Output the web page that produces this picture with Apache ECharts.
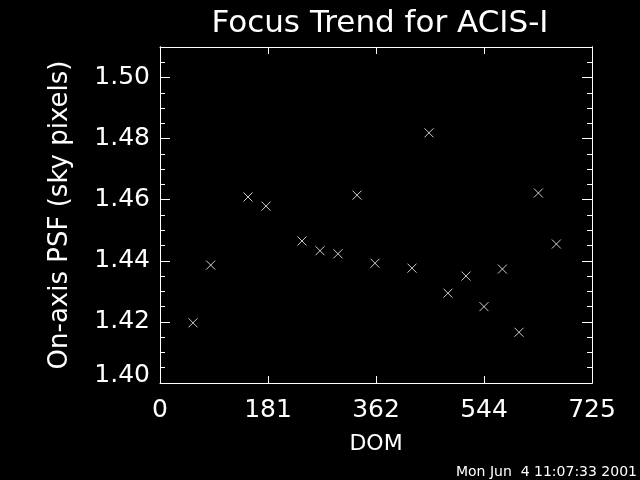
<!DOCTYPE html>
<html>
<head>
<meta charset="utf-8">
<script src="https://cdn.jsdelivr.net/npm/echarts@6/dist/echarts.min.js"></script>
<style>
html,body{margin:0;padding:0;background:#000;}
#c{width:640px;height:480px;}
</style>
</head>
<body>
<div id="c"></div>
<script>
var dom = [55.4, 85.1, 147.7, 177.9, 238.3, 268.5, 298.7, 330.6, 360.8, 422.9, 451.4, 483.3, 513.5, 543.7, 574.6, 602.5, 635.0, 665.2];
var psf = [1.4197, 1.4386, 1.4609, 1.4579, 1.4465, 1.4433, 1.4423, 1.4615, 1.4392, 1.4376, 1.4819, 1.4294, 1.4350, 1.4250, 1.4373, 1.4166, 1.4622, 1.4455];
var xTickLabels = ["0", "181", "362", "544", "725"];
var titleText = "Focus Trend for ACIS-I";
var xName = "DOM";
var yName = "On-axis PSF (sky pixels)";
var stampText = "Mon Jun  4 11:07:33 2001";

var FONT = "DejaVu Sans";
var chart = echarts.init(document.getElementById('c'));
var pts = dom.map(function (d, i) { return [d, psf[i]]; });

function yAxisDef(opts) {
  var base = {
    type: 'value', min: 1.40, max: 1.51,
    axisLine: { show: true, lineStyle: { color: '#fff', width: 1 } },
    axisTick: { show: true, inside: true, lineStyle: { color: '#fff' } },
    splitLine: { show: false },
    axisLabel: { show: false }
  };
  for (var k in opts) base[k] = opts[k];
  return base;
}

chart.setOption({
  backgroundColor: '#000',
  animation: false,
  title: {
    text: titleText, left: 375, top: 3, textAlign: 'center',
    textStyle: { color: '#fff', fontFamily: FONT, fontSize: 31, fontWeight: 'normal' }
  },
  graphic: [{
    type: 'text', right: 3, bottom: 1,
    style: { text: stampText, fill: '#fff', font: '14px "DejaVu Sans"' }
  }],
  grid: { left: 160, right: 48, top: 47, bottom: 97 },
  xAxis: [{
    type: 'value', min: 0, max: 725, interval: 181.25,
    position: 'bottom',
    name: xName, nameLocation: 'middle', nameGap: 50,
    nameTextStyle: { color: '#fff', fontFamily: FONT, fontSize: 22 },
    axisLine: { show: true, lineStyle: { color: '#fff' } },
    axisTick: { show: true, inside: true, length: 7, lineStyle: { color: '#fff' } },
    splitLine: { show: false },
    axisLabel: {
      color: '#fff', fontFamily: FONT, fontSize: 25, margin: 15,
      formatter: function (v) { return xTickLabels[Math.round(v / 181.25)] || ''; }
    }
  }, {
    type: 'value', min: 0, max: 725, interval: 181.25,
    position: 'top',
    axisLine: { show: true, lineStyle: { color: '#fff' } },
    axisTick: { show: true, inside: true, length: 7, lineStyle: { color: '#fff' } },
    splitLine: { show: false },
    axisLabel: { show: false }
  }],
  yAxis: [
    yAxisDef({
      position: 'left', interval: 0.02,
      axisTick: { show: true, inside: true, length: 10, lineStyle: { color: '#fff' } },
      name: yName, nameLocation: 'middle', nameGap: 87,
      nameTextStyle: { color: '#fff', fontFamily: FONT, fontSize: 26 },
      axisLabel: {
        show: true, color: '#fff', fontFamily: FONT, fontSize: 25, margin: 10,
        formatter: function (v) {
          var r = Math.round(v / 0.02);
          if (Math.abs(v / 0.02 - r) > 1e-6) return '';
          var s = v.toFixed(2);
          if (r === 70) return '{b|' + s + '}';
          return s;
        },
        rich: { b: { color: '#fff', fontFamily: FONT, fontSize: 25, padding: [0, 0, 16, 0] } }
      }
    }),
    yAxisDef({ position: 'left', interval: 0.005,
      axisTick: { show: true, inside: true, length: 5, lineStyle: { color: '#fff' } } }),
    yAxisDef({ position: 'right', interval: 0.02,
      axisTick: { show: true, inside: true, length: 10, lineStyle: { color: '#fff' } } }),
    yAxisDef({ position: 'right', interval: 0.005,
      axisTick: { show: true, inside: true, length: 5, lineStyle: { color: '#fff' } } })
  ],
  series: [{
    type: 'scatter', xAxisIndex: 0, yAxisIndex: 0,
    data: pts,
    symbol: 'path://M0 0L10 10M10 0L0 10',
    symbolSize: 9,
    itemStyle: { color: 'rgba(0,0,0,0)', borderColor: '#fff', borderWidth: 1 }
  }]
});
</script>
</body>
</html>
